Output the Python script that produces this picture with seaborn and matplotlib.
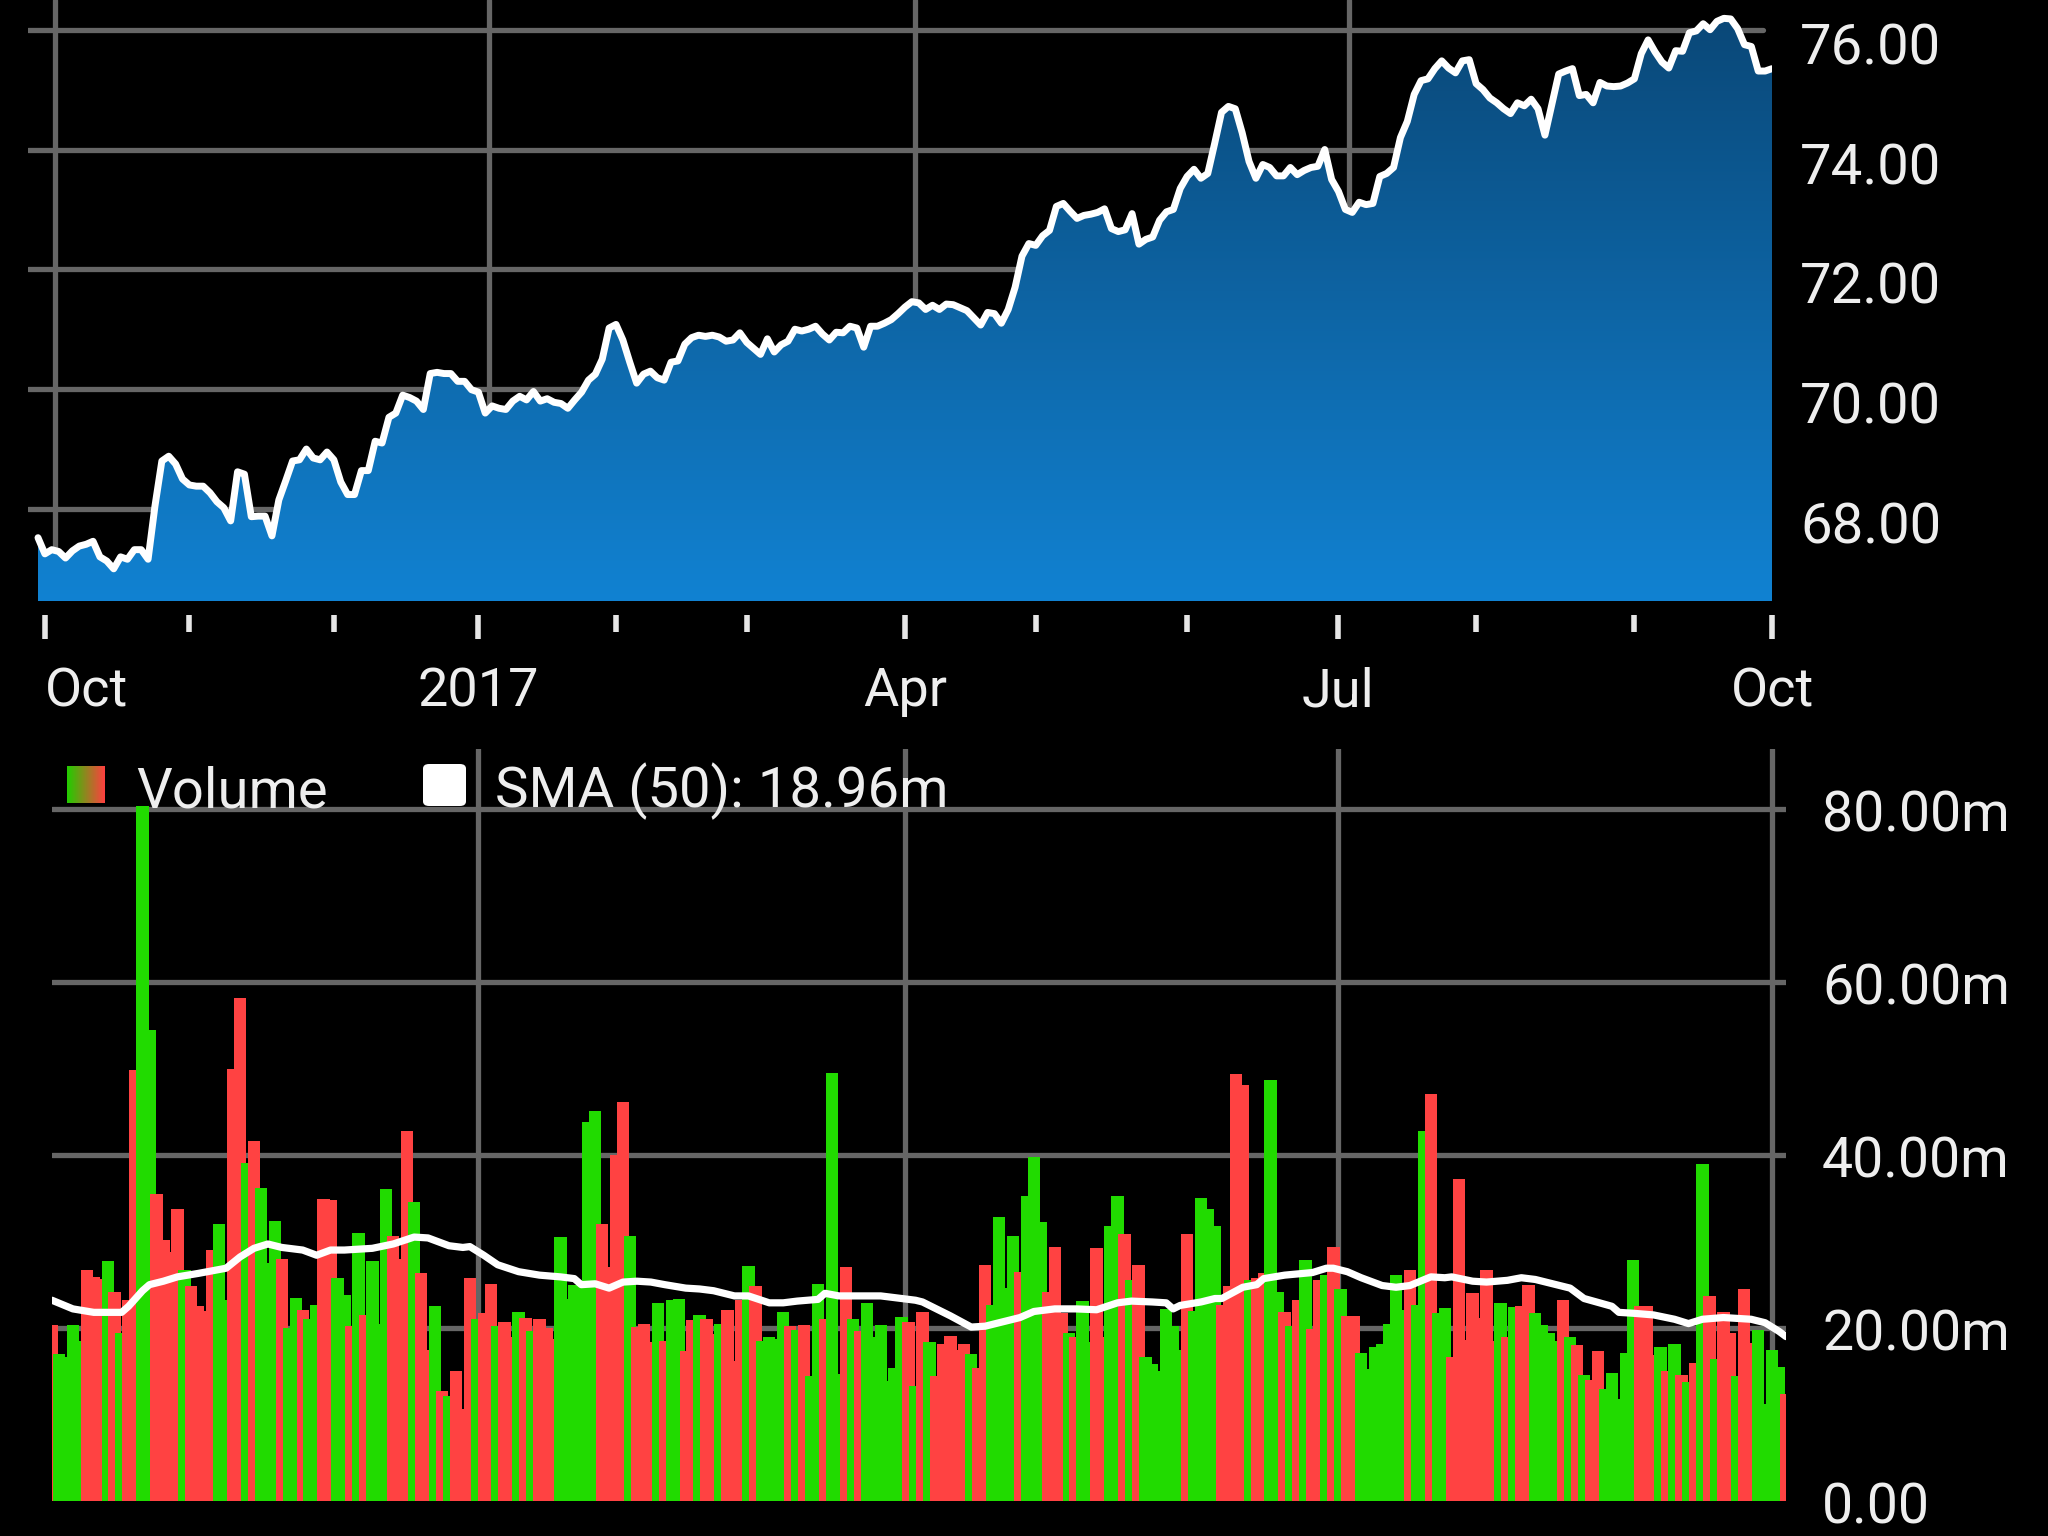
import matplotlib
matplotlib.use("Agg")
import matplotlib.pyplot as plt
import seaborn as sns
import numpy as np
import pandas as pd
from matplotlib.colors import LinearSegmentedColormap
from matplotlib.patches import FancyBboxPatch
from matplotlib.transforms import blended_transform_factory

sns.set_theme(style="dark", rc={"axes.facecolor": "black", "figure.facecolor": "black",
                                "axes.grid": False})
plt.rcParams['font.family'] = ['Roboto', 'DejaVu Sans']

TXT = "#eeeeee"
GRID = "#666666"
UP = "#21db00"
DOWN = "#ff4242"

# ---- data ----
start, end = "2016-09-30", "2017-10-02"
holidays = ["2016-11-24", "2016-12-26", "2017-01-02", "2017-01-16", "2017-02-20",
            "2017-04-14", "2017-05-29", "2017-07-04", "2017-09-04"]

price = [67.52, 67.25, 67.32, 67.29, 67.18, 67.30, 67.38, 67.41, 67.46, 67.20,
         67.13, 67.00, 67.20, 67.16, 67.32, 67.32, 67.16, 68.05, 68.80, 68.88,
         68.75, 68.50, 68.40, 68.38, 68.38, 68.27, 68.12, 68.02, 67.80, 68.62,
         68.58, 67.87, 67.88, 67.88, 67.55, 68.15, 68.47, 68.80, 68.82, 69.00,
         68.85, 68.82, 68.95, 68.82, 68.45, 68.24, 68.24, 68.64, 68.64, 69.13,
         69.10, 69.53, 69.60, 69.90, 69.86, 69.80, 69.66, 70.26, 70.28, 70.26,
         70.26, 70.13, 70.13, 69.99, 69.95, 69.60, 69.72, 69.68, 69.66, 69.80,
         69.88, 69.82, 69.96, 69.80, 69.84, 69.78, 69.76, 69.68, 69.82, 69.95,
         70.15, 70.25, 70.50, 71.02, 71.08, 70.82, 70.45, 70.10, 70.25, 70.30,
         70.19, 70.15, 70.45, 70.47, 70.75, 70.86, 70.90, 70.88, 70.90, 70.87,
         70.80, 70.82, 70.94, 70.78, 70.68, 70.58, 70.84, 70.62, 70.74, 70.80,
         71.00, 70.97, 71.00, 71.05, 70.92, 70.82, 70.95, 70.94, 71.05, 71.02,
         70.70, 71.05, 71.05, 71.10, 71.16, 71.26, 71.37, 71.46, 71.44, 71.33,
         71.40, 71.33, 71.42, 71.41, 71.36, 71.31, 71.19, 71.07, 71.28, 71.26,
         71.10, 71.33, 71.70, 72.22, 72.43, 72.40, 72.56, 72.65, 73.05, 73.10,
         72.97, 72.85, 72.90, 72.92, 72.95, 73.01, 72.68, 72.63, 72.66, 72.93,
         72.42, 72.50, 72.54, 72.82, 72.96, 73.00, 73.35, 73.55, 73.67, 73.52,
         73.60, 74.10, 74.62, 74.72, 74.68, 74.28, 73.80, 73.52, 73.75, 73.70,
         73.56, 73.56, 73.70, 73.58, 73.65, 73.70, 73.72, 74.00, 73.50, 73.30,
         73.00, 72.95, 73.12, 73.08, 73.10, 73.55, 73.60, 73.70, 74.20, 74.47,
         74.92, 75.15, 75.18, 75.35, 75.48, 75.36, 75.28, 75.48, 75.50, 75.10,
         75.00, 74.86, 74.78, 74.68, 74.60, 74.78, 74.73, 74.84, 74.68, 74.24,
         74.75, 75.26, 75.31, 75.35, 74.90, 74.92, 74.78, 75.12, 75.06, 75.05,
         75.06, 75.11, 75.18, 75.60, 75.83, 75.63, 75.46, 75.36, 75.65, 75.64,
         75.95, 75.98, 76.10, 76.00, 76.14, 76.19, 76.18, 76.02, 75.75, 75.72,
         75.31, 75.31, 75.35]

# volume in millions, first bar is the 4th trading day of the price range
volume = [20.3, 17.0, 16.6, 20.3, 18.5, 26.7, 25.9, 25.7, 27.7, 24.2,
          19.4, 23.2, 49.8, 80.3, 54.4, 35.5, 30.2, 28.8, 33.8, 26.7,
          24.8, 22.5, 21.9, 29.0, 32.0, 23.2, 49.9, 58.1, 39.1, 41.6,
          36.2, 27.5, 32.4, 28.0, 20.0, 23.5, 22.1, 21.0, 22.6, 34.9,
          34.8, 25.8, 23.8, 20.2, 31.0, 21.5, 27.7, 20.5, 36.0, 30.6,
          28.0, 42.8, 34.6, 26.4, 17.4, 22.5, 12.7, 12.1, 15.0, 10.6,
          25.8, 21.0, 21.7, 25.1, 20.2, 20.7, 18.9, 21.8, 21.2, 19.7,
          21.0, 20.0, 18.7, 30.5, 23.4, 25.0, 24.9, 43.8, 45.1, 32.0,
          27.0, 40.0, 46.1, 30.6, 20.1, 20.5, 18.4, 22.9, 18.5, 23.2,
          23.4, 17.3, 20.9, 21.5, 21.0, 19.3, 20.5, 22.1, 16.2, 23.2,
          27.2, 24.8, 18.5, 19.0, 18.7, 21.8, 20.2, 19.8, 20.3, 14.5,
          25.1, 21.0, 49.5, 14.7, 27.0, 21.0, 19.6, 22.9, 18.9, 20.3,
          13.9, 15.4, 21.3, 20.7, 13.3, 21.8, 18.4, 14.4, 18.2, 19.1,
          17.4, 18.2, 17.0, 15.4, 27.3, 22.6, 32.8, 24.6, 30.6, 26.5,
          35.3, 39.8, 32.2, 24.2, 29.3, 21.7, 19.4, 18.9, 23.1, 18.4,
          29.2, 19.0, 31.8, 35.3, 30.9, 25.5, 27.3, 16.6, 15.8, 15.0,
          22.2, 20.2, 17.4, 30.8, 21.9, 35.0, 33.7, 31.8, 22.6, 24.9,
          49.4, 48.1, 25.5, 25.8, 26.4, 48.6, 24.2, 21.8, 20.2, 23.2,
          27.9, 19.9, 25.5, 26.1, 29.3, 24.5, 21.4, 21.4, 17.1, 15.3,
          17.8, 18.1, 20.5, 26.1, 22.1, 26.7, 22.7, 42.7, 47.0, 21.7,
          22.3, 16.6, 37.2, 18.6, 24.0, 21.1, 26.7, 18.5, 22.9, 19.0,
          22.4, 22.5, 25.0, 21.7, 20.3, 19.4, 18.5, 23.2, 19.0, 18.0,
          14.6, 14.0, 17.3, 13.0, 14.8, 11.8, 17.1, 27.9, 22.5, 22.5,
          16.9, 17.8, 15.0, 18.2, 14.6, 13.7, 16.0, 38.9, 23.7, 16.4,
          21.8, 19.4, 14.4, 24.5, 18.3, 19.8, 11.2, 17.4, 15.5, 12.4]

# G = up day, R = down day
direction = ("RGGGGRRRGR" "GRRGGRRRRG" "RRRRGGRRGR" "GGGRGGRGGR" "RGGRGRGGGR"
             "RRGRRGRGRR" "RGRRGRRGRG" "RRRGGGGGGR" "RRRGRRRGRG" "GRRGRRGRRR"
             "GRGGGGRGRG" "GRGGRGRGGG" "GGGRGRGRRR" "RRGRRGGGGR" "GGGRRRGRGG"
             "RRGGRGRGGG" "GGGRGGGGRR" "RRGRRGGRGR" "GRRGRGRRGG" "GGGGGRGGRG"
             "GRRRRRRRGR" "GRRGGGGRGR" "GRRGGGGGRR" "RGRGRGRGRG" "RRGRRGGGGR")

# SMA(50) line read at selected bars
sma_bar = [0, 3, 6, 10, 11, 13, 14, 16, 18, 21, 25, 27, 29, 31, 33, 36, 38, 40, 42, 46,
           49, 52, 54, 57, 59, 60, 62, 64, 67, 70, 73, 75, 76, 78, 80, 82, 84, 86, 88, 91,
           93, 95, 96, 98, 100, 103, 105, 107, 110, 111, 113, 117, 119, 121, 124, 125, 127,
           129, 132, 134, 137, 139, 141, 144, 147, 150, 153, 155, 158, 160, 161, 162, 165,
           167, 168, 171, 173, 174, 177, 181, 183, 184, 186, 188, 191, 193, 195, 198, 200,
           201, 204, 206, 209, 211, 213, 216, 218, 220, 224, 225, 227, 230, 233, 235, 237,
           240, 244, 246, 248, 249]
sma_val = [23.2, 22.2, 21.8, 21.8, 22.5, 24.3, 25.0, 25.4, 25.9, 26.3, 26.9, 28.2, 29.2,
           29.7, 29.3, 29.0, 28.4, 29.0, 29.0, 29.2, 29.7, 30.5, 30.4, 29.5, 29.3, 29.4,
           28.4, 27.3, 26.5, 26.1, 25.9, 25.7, 25.0, 25.1, 24.6, 25.3, 25.4, 25.3, 25.0,
           24.6, 24.5, 24.3, 24.1, 23.7, 23.7, 22.9, 22.9, 23.1, 23.3, 24.0, 23.7, 23.7,
           23.7, 23.5, 23.2, 23.0, 22.2, 21.4, 20.1, 20.2, 20.8, 21.2, 21.9, 22.2, 22.2,
           22.1, 22.9, 23.1, 23.0, 22.9, 22.2, 22.6, 23.0, 23.4, 23.4, 24.7, 25.0, 25.7,
           26.1, 26.4, 26.9, 26.9, 26.5, 25.8, 24.9, 24.7, 24.9, 25.9, 25.8, 25.9, 25.4,
           25.3, 25.5, 25.8, 25.6, 25.0, 24.6, 23.4, 22.5, 21.8, 21.7, 21.5, 21.0, 20.5,
           21.0, 21.2, 21.0, 20.6, 19.6, 19.0]
sma_label = "SMA (50): 18.96m"

price_ticks = [68, 70, 72, 74, 76]
vol_ticks = [0, 20, 40, 60, 80]
vol_labels = ["0.00", "20.00m", "40.00m", "60.00m", "80.00m"]

# ---- frames ----
dates = pd.bdate_range(start, end, freq="C", holidays=holidays)
pdf = pd.DataFrame({"date": dates, "price": price})
pdf["i"] = np.arange(len(pdf))
vdf = pd.DataFrame({"date": dates[len(dates) - len(volume):], "volume": volume,
                    "dir": list(direction)})
vdf["j"] = np.arange(len(vdf))
sdf = pd.DataFrame({"j": sma_bar, "sma": sma_val})

# month starts for the ticks
newmonth = pdf["date"].dt.month.diff().fillna(0) != 0
months = pdf[newmonth]
quarter = months[months["date"].dt.month.isin([1, 4, 7, 10])]
qlabels = [str(d.year) if d.month == 1 else d.strftime("%b") for d in quarter["date"]]

W, H = 2048, 1536
fig = plt.figure(figsize=(W / 100, H / 100), dpi=100, facecolor="black")

# ---------------- price panel ----------------
ax = fig.add_axes([28 / W, 1 - 601 / H, (1772 - 28) / W, 601 / H])
ax.set_facecolor("black")
ylo, yhi = 66.463, 76.496
xlo, xhi = -1.453, len(pdf) - 1
px_per_unit = 601 / (yhi - ylo)

gw = (1763 - 28) / (1772 - 28)
for v in price_ticks:
    ax.axhline(v, xmin=0, xmax=gw, color=GRID, lw=3.8, zorder=1)
for m in quarter["i"]:
    ax.axvline(m + 1.5, color=GRID, lw=3.8, zorder=1)

poly = ax.fill_between(pdf["i"], pdf["price"], ylo, facecolor="none", edgecolor="none")
fillmap = LinearSegmentedColormap.from_list("fill", ["#1182d2", "#0a4675"])
im = ax.imshow(np.linspace(0, 1, 256).reshape(-1, 1), extent=[0, xhi, ylo, yhi],
               origin="lower", aspect="auto", cmap=fillmap, zorder=2)
im.set_clip_path(poly.get_paths()[0], transform=ax.transData)

sns.lineplot(data=pdf, x="i", y="price", ax=ax, color="white", lw=5.0, zorder=3,
             solid_joinstyle="round")

ax.set_xlim(xlo, xhi)
ax.set_ylim(ylo, yhi)
ax.set_xlabel("")
ax.set_ylabel("")
for s in ax.spines.values():
    s.set_color("none")
ax.spines["bottom"].set_position(("outward", 10))

ax.set_xticks(quarter["i"], labels=qlabels)
ax.set_xticks(months["i"], minor=True)
ax.tick_params(axis="x", which="both", bottom=True, top=False)
ax.tick_params(axis="x", which="major", direction="out", length=17, width=4,
               color="#e6e6e6", pad=20, labelsize=39, labelcolor=TXT)
ax.tick_params(axis="x", which="minor", direction="out", length=12.5, width=4,
               color="#e6e6e6")
ax.get_xticklabels()[0].set_horizontalalignment("left")

# price labels: top of text at the grid line
ax.set_yticks([])
ylab_tr = blended_transform_factory(ax.transAxes, ax.transData)
for v in price_ticks:
    ax.text(1 + 28 / 1744, v - 34.5 / px_per_unit, f"{v:.2f}", transform=ylab_tr,
            ha="left", va="baseline", fontsize=40.5, color=TXT, clip_on=False)

# ---------------- volume panel ----------------
bx = fig.add_axes([52 / W, 1 - 1501 / H, 1734 / W, (1501 - 749) / H])
bx.set_facecolor("black")
for v in vol_ticks[1:]:
    bx.axhline(v, color=GRID, lw=3.8, zorder=0.5)
# vertical lines sit under the quarter ticks of the price panel
tr = blended_transform_factory(ax.transData, bx.transAxes)
for m in quarter["i"]:
    bx.plot([m, m], [0, 1], transform=tr, color=GRID, lw=3.8, zorder=0.5)

cols = [UP if d == "G" else DOWN for d in vdf["dir"]]
bx.bar(vdf["j"], vdf["volume"], width=1.78, color=cols, linewidth=0, zorder=1)
sns.lineplot(data=sdf, x="j", y="sma", ax=bx, color="white", lw=5.2, zorder=3)

vy_hi = 86.9
bx.set_xlim(0, len(vdf) - 1)
bx.set_ylim(0, vy_hi)
bx.set_xlabel("")
bx.set_ylabel("")
bx.set_xticks([])
bx.set_yticks([])
for s in bx.spines.values():
    s.set_color("none")
vpx = (1501 - 749) / vy_hi
vlab_tr = blended_transform_factory(bx.transAxes, bx.transData)
for v, lab in zip(vol_ticks, vol_labels):
    bx.text(1 + 36 / 1734, v - 22.5 / vpx, lab, transform=vlab_tr, ha="left",
            va="baseline", fontsize=40, color=TXT, clip_on=False)

# legend
lg = fig.add_axes([67 / W, 1 - 803 / H, 38 / W, 37 / H])
lg.imshow(np.linspace(0, 1, 64).reshape(1, -1), aspect="auto",
          cmap=LinearSegmentedColormap.from_list("lg", ["#22cc00", "#ff4040"]))
lg.axis("off")
fig.text(136 / W, 1 - 807 / H, "Volume", fontsize=40.5, color=TXT, va="baseline")
fig.add_artist(FancyBboxPatch((423 / W, 1 - 806 / H), 43 / W, 42 / H,
                              boxstyle="round,pad=0,rounding_size=0.003",
                              transform=fig.transFigure, facecolor="white",
                              edgecolor="none"))
fig.text(495 / W, 1 - 807 / H, sma_label, fontsize=40.5, color=TXT, va="baseline")

fig.savefig("out.png", dpi=100, facecolor="black")
